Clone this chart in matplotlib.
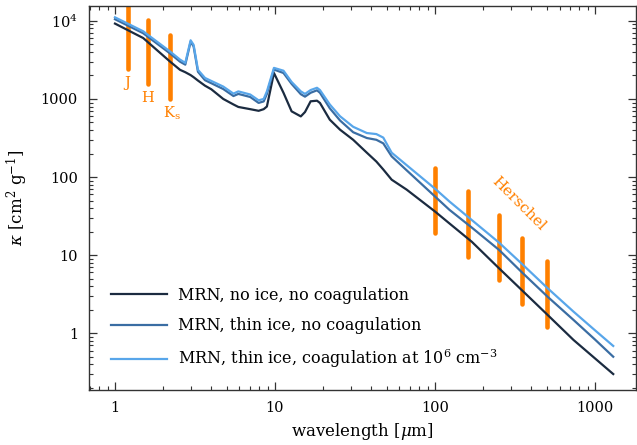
import matplotlib
matplotlib.use("Agg")
import matplotlib.pyplot as plt
from matplotlib.ticker import FixedLocator, LogLocator, NullFormatter, FixedFormatter

plt.rcParams['font.family'] = ['DejaVu Serif']
plt.rcParams['mathtext.fontset'] = 'dejavuserif'

# wavelength grid [micron]
lam = [1.0, 1.5, 2.2, 2.55, 2.75, 2.97, 3.1, 3.3, 3.65, 4.0, 4.75, 5.5, 5.9, 7.0, 7.9,
       8.5, 8.9, 9.85, 11.3, 12.7, 14.5, 15.4, 16.7, 18.3, 19.1, 22.0, 25.5, 30.8,
       37.5, 43.0, 47.5, 53.6, 66.5, 100, 123, 170, 251, 350, 505, 734, 1000, 1300]

kappa_noice = [9230, 6030, 3030, 2360, 2200, 2020, 1900, 1720, 1480, 1330, 1000, 850, 790,
               740, 705, 740, 800, 2150, 1200, 694, 598, 680, 933, 950, 889, 543, 404, 300,
               205, 158, 125, 92.5, 69, 36.2, 25.5, 14.8, 6.8, 3.54, 1.72, 0.82, 0.476, 0.30]

kappa_thin = [10500, 6950, 3850, 3000, 2750, 5400, 4700, 2230, 1740, 1590, 1340, 1090, 1160,
              1060, 890, 930, 1160, 2380, 2150, 1560, 1150, 1070, 1200, 1290, 1200, 760, 530,
              375, 316, 300, 270, 184, 122, 56.4, 38.1, 22.5, 11.7, 6.0, 2.94, 1.48, 0.83, 0.5]

kappa_coag = [11100, 7360, 4080, 3190, 2900, 5640, 4930, 2360, 1860, 1700, 1440, 1170, 1250,
              1140, 960, 1000, 1250, 2500, 2300, 1650, 1250, 1160, 1300, 1390, 1300, 850, 600,
              440, 366, 355, 320, 205, 142, 71, 48.7, 28.1, 14.5, 7.7, 3.78, 1.89, 1.09, 0.687]

labels = ["MRN, no ice, no coagulation",
          "MRN, thin ice, no coagulation",
          r"MRN, thin ice, coagulation at $10^6$ cm$^{-3}$"]
colors = ["#1b2b40", "#3a6da3", "#58a6ea"]

# photometric bands: (wavelength, bar top, bar bottom)
nir_lam = [1.2, 1.6, 2.2]
nir_top = [16500, 10400, 6670]
nir_bot = [2445, 1560, 1000]

her_lam = [100, 160, 250, 350, 500]
her_top = [130, 65.3, 32.9, 16.5, 8.3]
her_bot = [19.2, 9.6, 4.8, 2.4, 1.2]

orange = "#ff8000"

fig = plt.figure(figsize=(6.37, 4.45), dpi=100)
ax = fig.add_axes([89/637, 55/445, 547/637, 384/445])

for x, t, b in zip(nir_lam, nir_top, nir_bot):
    ax.plot([x, x], [b, t], color=orange, lw=3.3, solid_capstyle='round', zorder=1)
for x, t, b in zip(her_lam, her_top, her_bot):
    ax.plot([x, x], [b, t], color=orange, lw=3.3, solid_capstyle='round', zorder=1)

for k, c, l in zip([kappa_noice, kappa_thin, kappa_coag], colors, labels):
    ax.plot(lam, k, color=c, lw=1.6, label=l, zorder=3)

ax.set_xscale('log')
ax.set_yscale('log')
ax.set_xlim(0.688, 1804)
ax.set_ylim(0.1875, 15500)

ax.text(1.19, 1618, "J", color=orange, fontsize=10.5, ha='center', va='center')
ax.text(1.59, 1038, "H", color=orange, fontsize=10.5, ha='center', va='center')
ax.text(1.99, 653, r"K$_\mathregular{s}$", color=orange, fontsize=10.5, ha='left', va='center')
ax.text(335, 45.5, "Herschel", color=orange, fontsize=11, rotation=-45,
        ha='center', va='center', rotation_mode='anchor')

ax.xaxis.set_major_locator(FixedLocator([1, 10, 100, 1000]))
ax.xaxis.set_major_formatter(FixedFormatter(["1", "10", "100", "1000"]))
ax.yaxis.set_major_locator(FixedLocator([1, 10, 100, 1000, 10000]))
ax.yaxis.set_major_formatter(FixedFormatter(["1", "10", "100", "1000", r"$10^4$"]))
ax.xaxis.set_minor_locator(LogLocator(base=10, subs=range(2, 10), numticks=20))
ax.yaxis.set_minor_locator(LogLocator(base=10, subs=range(2, 10), numticks=20))
ax.xaxis.set_minor_formatter(NullFormatter())
ax.yaxis.set_minor_formatter(NullFormatter())

ax.tick_params(which='both', direction='in', top=True, right=True, labelsize=10.5, color='#333333')
ax.tick_params(which='major', length=6, width=0.9)
ax.tick_params(which='minor', length=3, width=0.8)
ax.tick_params(axis='x', pad=8)
ax.tick_params(axis='y', pad=8)
for s in ax.spines.values():
    s.set_linewidth(1.0)
    s.set_color('#333333')

ax.set_xlabel(r"wavelength [$\mu$m]", fontsize=12, labelpad=4)
ax.set_ylabel(r"$\kappa$ [cm$^2$ g$^{-1}$]", fontsize=12, labelpad=8)

leg = ax.legend(loc='lower left', bbox_to_anchor=(0.040, 0.051), frameon=False,
                fontsize=11.5, handlelength=3.5, handletextpad=0.7, labelspacing=0.85,
                borderaxespad=0, borderpad=0)

fig.savefig("out.png", dpi=100)
